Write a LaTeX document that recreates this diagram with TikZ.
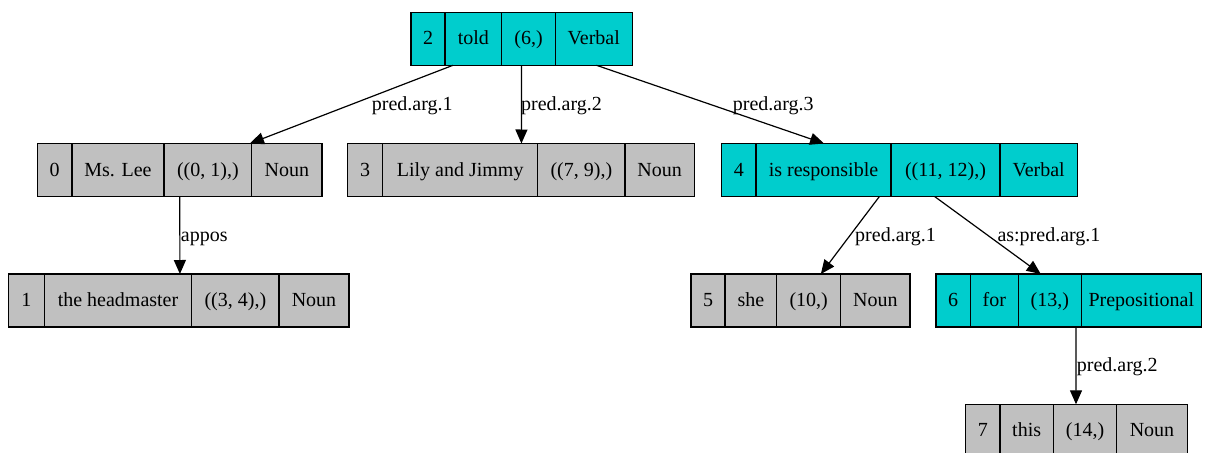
\documentclass[tikz,border=0pt]{standalone}
\usepackage{fontspec}
\setmainfont{Liberation Serif}
\usetikzlibrary{arrows.meta,calc,positioning}

\definecolor{predcyan}{HTML}{00CDCD}
\definecolor{argray}{HTML}{C0C0C0}

\tikzset{
  field/.style={draw=black, line width=1.2pt, minimum height=53pt, inner sep=0pt, outer sep=0pt,
                text height=16pt, text depth=4pt, anchor=north west},
  vfield/.style={field, fill=predcyan},
  nfield/.style={field, fill=argray},
  nextfield/.style={anchor=north west, right=0pt of #1},
  edge/.style={draw=black, line width=1.2pt, -{Triangle[length=14pt,width=12pt]}},
  elabel/.style={anchor=base west, inner sep=0pt}
}

\begin{document}
\begin{tikzpicture}[x=1pt, y=-1pt, font=\fontsize{20}{24}\selectfont]
  \useasboundingbox (0,0) rectangle (1206,452);
  \clip (0,0) rectangle (1206,452);

  % record 2: told
  \node[vfield, minimum width=34pt] (n2a) at (411,12.3) {2};
  \node[vfield, minimum width=56.7pt, nextfield=n2a] (n2b) {told};
  \node[vfield, minimum width=53.6pt, nextfield=n2b] (n2c) {(6,)};
  \node[vfield, minimum width=77pt, nextfield=n2c] (n2d) {Verbal};

  % record 0: Ms. Lee
  \node[nfield, minimum width=34.7pt] (n0a) at (37.3,143.5) {0};
  \node[nfield, minimum width=92pt, nextfield=n0a] (n0b) {Ms. Lee};
  \node[nfield, minimum width=87.7pt, nextfield=n0b] (n0c) {((0, 1),)};
  \node[nfield, minimum width=70.3pt, nextfield=n0c] (n0d) {Noun};

  % record 3: Lily and Jimmy
  \node[nfield, minimum width=35.4pt] (n3a) at (347.3,143.5) {3};
  \node[nfield, minimum width=155pt, nextfield=n3a] (n3b) {Lily and Jimmy};
  \node[nfield, minimum width=87.3pt, nextfield=n3b] (n3c) {((7, 9),)};
  \node[nfield, minimum width=69.3pt, nextfield=n3c] (n3d) {Noun};

  % record 4: is responsible
  \node[vfield, minimum width=34.3pt] (n4a) at (721.7,143.5) {4};
  \node[vfield, minimum width=135pt, nextfield=n4a] (n4b) {is responsible};
  \node[vfield, minimum width=109pt, nextfield=n4b] (n4c) {((11, 12),)};
  \node[vfield, minimum width=77.3pt, nextfield=n4c] (n4d) {Verbal};

  % record 1: the headmaster
  \node[nfield, minimum width=35.8pt] (n1a) at (8.5,274) {1};
  \node[nfield, minimum width=147.4pt, nextfield=n1a] (n1b) {the headmaster};
  \node[nfield, minimum width=87.3pt, nextfield=n1b] (n1c) {((3, 4),)};
  \node[nfield, minimum width=70pt, nextfield=n1c] (n1d) {Noun};

  % record 5: she
  \node[nfield, minimum width=34pt] (n5a) at (691,274) {5};
  \node[nfield, minimum width=51.7pt, nextfield=n5a] (n5b) {she};
  \node[nfield, minimum width=64pt, nextfield=n5b] (n5c) {(10,)};
  \node[nfield, minimum width=69.3pt, nextfield=n5c] (n5d) {Noun};

  % record 6: for
  \node[vfield, minimum width=34.3pt] (n6a) at (936,274) {6};
  \node[vfield, minimum width=48pt, nextfield=n6a] (n6b) {for};
  \node[vfield, minimum width=63pt, nextfield=n6b] (n6c) {(13,)};
  \node[vfield, minimum width=120pt, nextfield=n6c] (n6d) {Prepositional};

  % record 7: this
  \node[nfield, minimum width=34.3pt] (n7a) at (965.7,404.3) {7};
  \node[nfield, minimum width=53.3pt, nextfield=n7a] (n7b) {this};
  \node[nfield, minimum width=63.4pt, nextfield=n7b] (n7c) {(14,)};
  \node[nfield, minimum width=70.6pt, nextfield=n7c] (n7d) {Noun};

  % connectors
  \draw[edge] ($(n2b.south west)!.14!(n2b.south east)$) -- ($(n0c.north west)!.98!(n0c.north east)$);
  \draw[edge] ($(n2c.south west)!.37!(n2c.south east)$) -- ($(n3b.north west)!.895!(n3b.north east)$);
  \draw[edge] ($(n2d.south west)!.535!(n2d.south east)$) -- ($(n4b.north west)!.504!(n4b.north east)$);
  \draw[edge] ($(n0c.south west)!.18!(n0c.south east)$) -- ($(n1b.north west)!.92!(n1b.north east)$);
  \draw[edge] ($(n4b.south west)!.914!(n4b.south east)$) -- ($(n5c.north west)!.69!(n5c.north east)$);
  \draw[edge] ($(n4c.south west)!.40!(n4c.south east)$) -- ($(n6c.north west)!.356!(n6c.north east)$);
  \draw[edge] ($(n6c.south west)!.916!(n6c.south east)$) -- ($(n7c.north west)!.358!(n7c.north east)$);

  % connector labels
  \node[elabel] (l20) at (371.7,110) {pred.arg.1};
  \node[elabel] (l23) at (521,110) {pred.arg.2};
  \node[elabel] (l24) at (732.7,110) {pred.arg.3};
  \node[elabel] (l01) at (180.7,241) {appos};
  \node[elabel] (l45) at (855,241) {pred.arg.1};
  \node[elabel] (l46) at (997.3,241) {as:pred.arg.1};
  \node[elabel] (l67) at (1076.7,371.5) {pred.arg.2};
\end{tikzpicture}
\end{document}
